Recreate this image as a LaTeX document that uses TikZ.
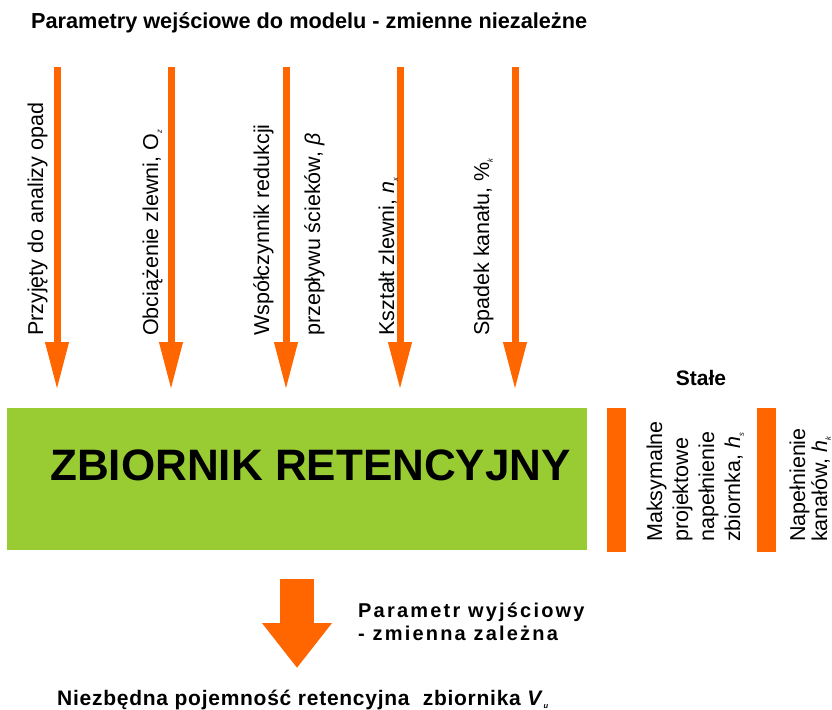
\documentclass[tikz,border=0pt]{standalone}
\usepackage{fontspec}
\setmainfont{Liberation Sans}
\usetikzlibrary{arrows.meta}
\definecolor{orng}{RGB}{255,102,0}
\definecolor{grn}{RGB}{153,204,51}
\newcommand{\lowidx}[1]{\raisebox{-0.35ex}{\fontsize{7.5}{8}\selectfont\itshape #1}}
\begin{document}
\begin{tikzpicture}[x=1pt,y=-1pt,
  inarrow/.style={draw=orng, line width=7pt, -{Triangle[length=48pt,width=22pt]}},
  bigarrow/.style={draw=orng, line width=34pt, -{Triangle[length=45pt,width=67pt]}},
  vlabel/.style={rotate=90, anchor=base west, inner sep=0pt, font=\fontsize{21.5}{24}\selectfont},
  blockfill/.style={inner sep=0pt, anchor=north west},
  boldtxt/.style={anchor=base west, inner sep=0pt}
]
\useasboundingbox (0,0) rectangle (832,709);

% title
\node[boldtxt, font=\bfseries\fontsize{21.7}{26}\selectfont] (title) at (31,29)
  {Parametry wejściowe do modelu - zmienne niezależne};

% main box
\node[blockfill, fill=grn, minimum width=580pt, minimum height=142pt] (box) at (7,408) {};
\node[boldtxt, font=\bfseries\fontsize{44}{50}\selectfont] (boxlabel) at (50,480) {ZBIORNIK RETENCYJNY};

% input arrows
\coordinate (s1) at (57,67);
\coordinate (s2) at (171,67);
\coordinate (s3) at (286,67);
\coordinate (s4) at (400,67);
\coordinate (s5) at (515,67);
\foreach \i in {1,...,5}{
  \draw[inarrow, shorten >=18pt] (s\i) -- (s\i |- box.north);
}

% input labels
\node[vlabel] (l1) at (43,336) {Przyjęty do analizy opad};
\node[vlabel] (l2) at (158,336) {Obciążenie zlewni, O\lowidx{z}};
\node[vlabel] (l3a) at (269,336) {Współczynnik redukcji};
\node[vlabel] (l3b) at (320,336) {przepływu ścieków, \textit{β}};
\node[vlabel] (l4) at (394,336) {Kształt zlewni, \textit{n}\lowidx{x}};
\node[vlabel] (l5) at (489,336) {Spadek kanału, \%\lowidx{k}};

% constants
\node[anchor=base, inner sep=0pt, font=\bfseries\fontsize{21}{24}\selectfont] (stale) at (701,385) {Stałe};
\node[blockfill, fill=orng, minimum width=19pt, minimum height=144pt] (bar1) at (607,408) {};
\node[blockfill, fill=orng, minimum width=19pt, minimum height=144pt] (bar2) at (757,408) {};
\node[vlabel] (m1) at (662,542) {Maksymalne};
\node[vlabel] (m2) at (688,542) {projektowe};
\node[vlabel] (m3) at (714,542) {napełnienie};
\node[vlabel] (m4) at (740,542) {zbiornka, \textit{h}\lowidx{s}};
\node[vlabel] (n1) at (805,542) {Napełnienie};
\node[vlabel] (n2) at (827,542) {kanałów, \textit{h}\lowidx{k}};

% output arrow
\coordinate (bs) at (297,579);
\coordinate (bt) at (297,668);
\draw[bigarrow] (bs) -- (bt);

\node[boldtxt, font=\bfseries\fontsize{20}{23}\selectfont\addfontfeatures{LetterSpace=11}] (out1) at (358,617) {Parametr wyjściowy};
\node[boldtxt, font=\bfseries\fontsize{20}{23}\selectfont\addfontfeatures{LetterSpace=11}] (out2) at (358,640) {- zmienna zależna};

\node[boldtxt, font=\bfseries\fontsize{21}{24}\selectfont\addfontfeatures{LetterSpace=3.5}] (result) at (57,705)
  {Niezbędna pojemność retencyjna\ \ zbiornika \textit{V}\lowidx{u}};
\end{tikzpicture}
\end{document}
